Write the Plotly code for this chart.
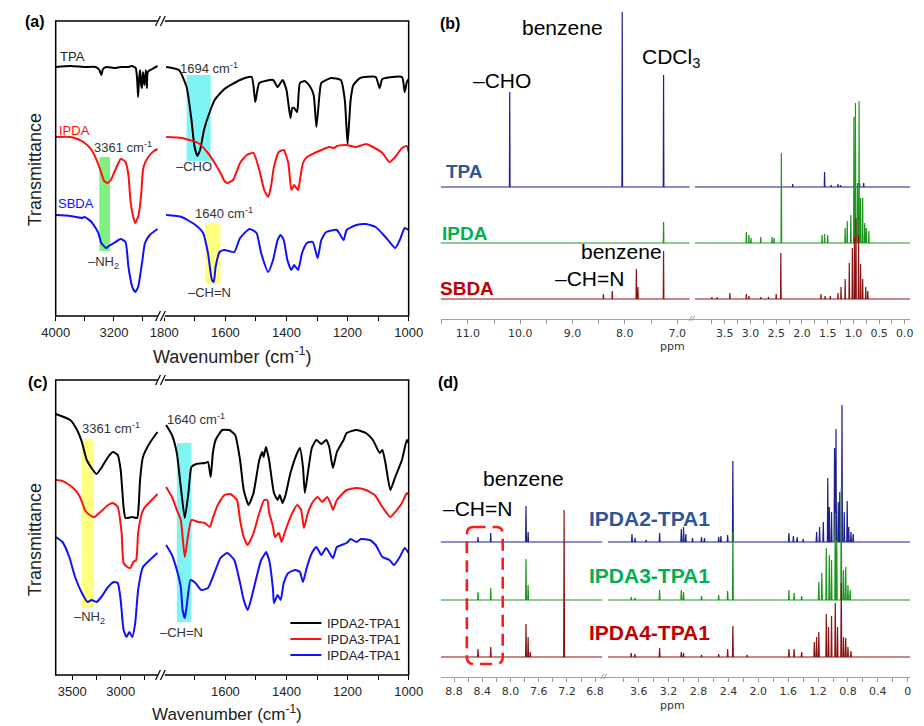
import plotly.graph_objects as go

W, H = 924, 726
def fx(px): return px / W
def fy(py): return 1 - py / H

# ================= DATA =================
# ---- Panel (a): FTIR of monomers (wavenumber cm-1, transmittance a.u.) ----
a_tpa_l_wn = [4000,3800,3600,3450,3400,3373,3350,3300,3200,3100,3000,2950,2900,2880,2867,2855,2840,2825,2813,2800,2780,2760,2747,2735,2700,2650,2600]
a_tpa_l_t  = [249,250,249,249,246,241,247,249,248,249,249,250,248,236,219,236,246,231,228,244,231,246,228,244,246,248,250]
a_tpa_r_wn = [1794,1752,1727,1711,1702,1692,1683,1670,1657,1635,1603,1552,1514,1502,1489,1444,1429,1413,1400,1387,1381,1375,1365,1356,1340,1324,1311,1302,1292,1286,1254,1222,1209,1200,1190,1181,1159,1108,1095,1086,1022,1013,1006,1000]
a_tpa_r_t  = [249,246,229,196,171,160,166,186,199,216,227,236,239,214,233,236,229,236,226,198,208,208,204,233,235,230,221,189,221,233,238,236,216,172,216,231,238,239,228,237,239,224,234,237]

a_ipda_l_wn = [4000,3800,3700,3600,3507,3450,3400,3360,3333,3290,3240,3200,3150,3107,3070,3040,3000,2973,2940,2907,2880,2867,2840,2820,2800,2773,2707,2650,2600]
a_ipda_l_t  = [179,179,177,173,166,158,149,140,135,133,136,143,151,157,156,154,141,116,101,93,97,99,111,126,146,153,161,165,167]
a_ipda_r_wn = [1794,1743,1689,1657,1635,1616,1603,1594,1575,1552,1530,1508,1489,1473,1460,1451,1441,1425,1409,1394,1384,1375,1362,1356,1346,1333,1308,1286,1260,1244,1235,1203,1171,1140,1117,1086,1063,1044,1022,1006,1000]
a_ipda_r_t  = [179,178,173,163,153,143,135,133,136,153,161,163,146,126,119,129,149,164,166,153,126,131,126,136,153,159,163,166,169,168,170,171,169,172,169,163,154,159,168,170,164]

a_sbda_l_wn = [4000,3800,3640,3600,3507,3413,3373,3307,3270,3200,3107,3040,3000,2947,2907,2867,2813,2773,2707,2600]
a_sbda_l_t  = [101,100,98,99,94,83,73,68,70,73,77,74,49,29,24,29,53,73,81,87]
a_sbda_r_wn = [1794,1743,1698,1673,1657,1644,1638,1632,1619,1603,1571,1552,1521,1498,1483,1460,1444,1429,1419,1409,1397,1384,1375,1362,1349,1333,1314,1298,1286,1270,1235,1213,1203,1171,1140,1108,1076,1044,1029,1013,1000]
a_sbda_r_t  = [101,99,91,83,63,36,34,49,64,66,64,78,87,83,63,44,56,76,81,76,56,46,51,46,63,73,74,58,76,84,86,76,86,91,92,89,79,68,76,88,86]

# ---- Panel (c): FTIR of polymers ----
c_p2_l_wn = [3670,3520,3450,3400,3350,3300,3250,3200,3130,3080,3030,3000,2970,2950,2880,2830,2815,2800,2770,2700,2620]
c_p2_l_t  = [261,255,245,233,215,207,201,207,218,223,220,205,168,157,158,157,168,195,218,232,243]
c_p2_r_wn = [1794,1775,1759,1746,1733,1721,1711,1695,1667,1657,1648,1641,1632,1610,1587,1568,1552,1540,1524,1508,1489,1479,1475,1467,1457,1441,1429,1422,1413,1403,1387,1365,1356,1346,1340,1330,1317,1302,1286,1270,1260,1248,1235,1213,1203,1171,1140,1117,1095,1086,1076,1060,1044,1022,1006,1000]
c_p2_r_t  = [250,240,222,188,157,182,208,211,212,213,198,222,235,245,245,240,215,185,170,182,215,223,218,228,215,182,175,180,172,180,202,222,227,208,182,202,227,235,231,235,228,207,223,235,242,245,242,235,222,225,212,185,198,215,235,232]

c_p3_l_wn = [3670,3600,3500,3430,3380,3370,3320,3270,3220,3130,3080,3030,2990,2970,2930,2900,2870,2840,2820,2780,2750,2700,2620]
c_p3_l_t  = [195,194,188,180,168,165,160,158,162,170,172,168,142,112,108,107,113,115,142,162,168,173,181]
c_p3_r_wn = [1794,1775,1759,1746,1733,1721,1711,1689,1667,1651,1641,1625,1603,1584,1562,1552,1540,1527,1508,1489,1473,1463,1457,1444,1438,1425,1416,1403,1381,1365,1352,1343,1330,1314,1298,1283,1267,1251,1248,1235,1203,1171,1140,1111,1086,1060,1044,1022,1006,1000]
c_p3_r_t  = [188,178,165,155,118,142,155,153,152,148,157,170,180,181,175,155,138,130,142,162,175,175,163,148,138,142,133,145,162,170,165,147,162,173,178,173,178,168,165,175,185,187,185,180,168,158,163,172,182,180]

c_p4_l_wn = [3670,3600,3530,3470,3400,3340,3300,3250,3200,3130,3070,3030,3000,2970,2940,2910,2880,2850,2820,2770,2700,2620]
c_p4_l_t  = [138,133,118,98,82,73,75,73,78,88,93,92,75,45,38,43,38,52,85,108,115,122]
c_p4_r_wn = [1794,1775,1759,1746,1740,1733,1727,1714,1698,1679,1657,1641,1616,1594,1571,1552,1540,1527,1514,1498,1483,1473,1467,1457,1444,1441,1429,1419,1409,1394,1371,1356,1346,1333,1317,1302,1286,1270,1248,1235,1203,1190,1171,1156,1127,1108,1086,1063,1048,1029,1013,1000]
c_p4_r_t  = [130,120,105,88,65,57,68,95,92,85,87,98,117,122,115,92,75,65,78,98,115,120,123,115,85,72,80,75,92,102,105,103,93,108,122,128,120,127,117,128,132,136,133,136,135,130,118,115,110,118,127,122]

c_names = ["IPDA2-TPA1", "IPDA3-TPA1", "IPDA4-TPA1"]

# ---- Panel (b): 1H NMR of monomers (peak ppm, peak height a.u.) ----
b_tpa_l_ppm = [10.2, 8.05, 7.26]
b_tpa_l_h   = [95, 175, 112]
b_tpa_r_ppm = [2.18, 1.56, 1.43, 1.30, 1.25, 0.88, 0.80]
b_tpa_r_h   = [3, 15, 2, 3, 2, 4, 4]

b_ipda_l_ppm = [7.26]
b_ipda_l_h   = [21]
b_ipda_r_ppm = [3.08, 3.03, 2.99, 2.80, 2.58, 2.54, 2.40, 1.61, 1.56, 1.50, 1.16, 1.12, 1.05, 0.99, 0.96, 0.92, 0.89, 0.86, 0.82, 0.78, 0.75, 0.70]
b_ipda_r_h   = [11, 8, 5, 6, 6, 5, 90, 8, 9, 8, 15, 22, 28, 126, 140, 60, 142, 45, 45, 20, 15, 12]

b_sbda_l_ppm = [8.41, 8.24, 7.78, 7.75, 7.26]
b_sbda_l_h   = [5, 8, 30, 12, 48]
b_sbda_r_ppm = [3.75, 3.65, 3.40, 3.08, 3.03, 2.80, 2.65, 2.50, 2.41, 1.63, 1.55, 1.45, 1.30, 1.24, 1.16, 1.08, 1.02, 0.98, 0.95, 0.90, 0.86, 0.82, 0.76, 0.72]
b_sbda_r_h   = [2, 2, 6, 5, 3, 2, 2, 5, 46, 5, 3, 3, 6, 12, 20, 36, 51, 62, 81, 64, 35, 20, 12, 8]

# ---- Panel (d): 1H NMR of polymers ----
d_p2_l_ppm = [8.46, 8.28, 7.78, 7.75]
d_p2_l_h   = [5, 9, 36, 10]
d_p2_r_ppm = [3.69, 3.65, 3.50, 3.32, 3.03, 3.00, 2.97, 2.88, 2.76, 2.72, 2.53, 2.50, 2.41, 2.34, 1.59, 1.53, 1.48, 1.40, 1.22, 1.18, 1.13, 1.07, 1.05, 1.02, 0.98, 0.96, 0.93, 0.91, 0.88, 0.85, 0.81, 0.79, 0.76, 0.73]
d_p2_r_h   = [8, 4, 2, 9, 13, 15, 8, 4, 5, 4, 5, 6, 7, 81, 9, 6, 5, 3, 10, 15, 20, 64, 35, 30, 94, 113, 40, 50, 137, 30, 41, 15, 10, 8]

d_p3_l_ppm = [8.46, 8.28, 7.78, 7.75]
d_p3_l_h   = [8, 12, 41, 15]
d_p3_r_ppm = [3.70, 3.65, 3.32, 3.03, 3.00, 2.76, 2.53, 2.41, 2.34, 1.59, 1.52, 1.42, 1.19, 1.15, 1.09, 1.05, 1.02, 0.97, 0.95, 0.89, 0.86, 0.83, 0.80, 0.77]
d_p3_r_h   = [3, 2, 10, 10, 8, 4, 5, 9, 68, 10, 7, 4, 18, 27, 52, 45, 40, 87, 60, 112, 30, 33, 15, 10]

d_p4_l_ppm = [8.46, 8.28, 7.78, 7.75, 7.72, 7.24]
d_p4_l_h   = [8, 10, 33, 20, 5, 147]
d_p4_r_ppm = [3.70, 3.65, 3.32, 3.03, 3.00, 2.76, 2.53, 2.41, 2.34, 2.15, 1.59, 1.52, 1.42, 1.25, 1.22, 1.19, 1.09, 1.06, 1.02, 0.97, 0.94, 0.89, 0.86, 0.83, 0.80, 0.76]
d_p4_r_h   = [4, 3, 9, 5, 4, 2, 3, 8, 31, 2, 8, 8, 5, 15, 20, 25, 43, 30, 41, 54, 30, 74, 20, 19, 10, 6]

# ================= STYLE CONSTANTS =================
IR_FONT = "Liberation Sans, Arial, sans-serif"
NMR_FONT = "Liberation Sans, Arial, sans-serif"
TICK_FONT_NMR = "DejaVu Sans, Verdana, sans-serif"
C_BLACK, C_RED, C_BLUE = "#000000", "#ff1010", "#1010ff"
N_BLUE, N_GREEN, N_RED = "#1f1f8f", "#1e961e", "#8b1212"
L_BLUE, L_GREEN, L_RED = "#2f5597", "#00b050", "#c00000"

fig = go.Figure()

def stems(ppm, h, hi, lo, base, w=0.006):
    pairs = sorted(zip(ppm, h), key=lambda t: -t[0])
    xs, ys = [hi], [base]
    for p, v in pairs:
        xs += [p + w, p, p - w]
        ys += [base, base + v, base]
    xs.append(lo); ys.append(base)
    return xs, ys

def ir(xw, yt, xa, ya, color, name=None, group=None):
    fig.add_trace(go.Scatter(x=xw, y=yt, xaxis=xa, yaxis=ya, mode="lines",
                             line=dict(color=color, width=2, shape="spline", smoothing=0.5),
                             name=name, legendgroup=group, showlegend=False, hoverinfo="skip"))

# Panel (a)
ir(a_tpa_l_wn, a_tpa_l_t, "x", "y", C_BLACK)
ir(a_tpa_r_wn, a_tpa_r_t, "x2", "y", C_BLACK)
ir(a_ipda_l_wn, a_ipda_l_t, "x", "y", C_RED)
ir(a_ipda_r_wn, a_ipda_r_t, "x2", "y", C_RED)
ir(a_sbda_l_wn, a_sbda_l_t, "x", "y", C_BLUE)
ir(a_sbda_r_wn, a_sbda_r_t, "x2", "y", C_BLUE)

# Panel (c)
ir(c_p2_l_wn, c_p2_l_t, "x5", "y3", C_BLACK, c_names[0], c_names[0])
ir(c_p2_r_wn, c_p2_r_t, "x6", "y3", C_BLACK, c_names[0], c_names[0])
ir(c_p3_l_wn, c_p3_l_t, "x5", "y3", C_RED, c_names[1], c_names[1])
ir(c_p3_r_wn, c_p3_r_t, "x6", "y3", C_RED, c_names[1], c_names[1])
ir(c_p4_l_wn, c_p4_l_t, "x5", "y3", C_BLUE, c_names[2], c_names[2])
ir(c_p4_r_wn, c_p4_r_t, "x6", "y3", C_BLUE, c_names[2], c_names[2])

# NMR ranges
B_L = (11.52, 6.76); B_R = (4.08, -0.10)
D_L = (8.99, 6.70); D_R = (4.01, -0.03)
B_BASE = {"tpa": 132, "ipda": 76, "sbda": 20}
D_BASE = {"p2": 135, "p3": 77, "p4": 20}

def nmr(ppm, h, rng, base, xa, ya, color):
    xs, ys = stems(ppm, h, rng[0], rng[1], base)
    fig.add_trace(go.Scatter(x=xs, y=ys, xaxis=xa, yaxis=ya, mode="lines",
                             line=dict(color=color, width=1.2), showlegend=False, hoverinfo="skip"))

nmr(b_tpa_l_ppm, b_tpa_l_h, B_L, B_BASE["tpa"], "x3", "y2", N_BLUE)
nmr(b_tpa_r_ppm, b_tpa_r_h, B_R, B_BASE["tpa"], "x4", "y2", N_BLUE)
nmr(b_ipda_l_ppm, b_ipda_l_h, B_L, B_BASE["ipda"], "x3", "y2", N_GREEN)
nmr(b_ipda_r_ppm, b_ipda_r_h, B_R, B_BASE["ipda"], "x4", "y2", N_GREEN)
nmr(b_sbda_l_ppm, b_sbda_l_h, B_L, B_BASE["sbda"], "x3", "y2", N_RED)
nmr(b_sbda_r_ppm, b_sbda_r_h, B_R, B_BASE["sbda"], "x4", "y2", N_RED)

nmr(d_p2_l_ppm, d_p2_l_h, D_L, D_BASE["p2"], "x7", "y4", N_BLUE)
nmr(d_p2_r_ppm, d_p2_r_h, D_R, D_BASE["p2"], "x8", "y4", N_BLUE)
nmr(d_p3_l_ppm, d_p3_l_h, D_L, D_BASE["p3"], "x7", "y4", N_GREEN)
nmr(d_p3_r_ppm, d_p3_r_h, D_R, D_BASE["p3"], "x8", "y4", N_GREEN)
nmr(d_p4_l_ppm, d_p4_l_h, D_L, D_BASE["p4"], "x7", "y4", N_RED)
nmr(d_p4_r_ppm, d_p4_r_h, D_R, D_BASE["p4"], "x8", "y4", N_RED)

# ================= AXES =================
def ir_x(dom, rng, vals, minor, anchor):
    return dict(domain=[fx(dom[0]), fx(dom[1])], range=list(rng), anchor=anchor,
                tickvals=vals, ticktext=[str(v) for v in vals],
                ticks="outside", ticklen=4, tickwidth=1.2, tickcolor="#000",
                minor=dict(tickvals=minor, ticks="outside", ticklen=4, tickwidth=1.2,
                           tickcolor="#000", showgrid=False),
                showline=False, showgrid=False, zeroline=False,
                tickfont=dict(family=IR_FONT, size=13, color="#222"), fixedrange=True)

def nmr_x(dom, rng, major, labels, minor, anchor):
    return dict(domain=[fx(dom[0]), fx(dom[1])], range=list(rng), anchor=anchor,
                tickvals=list(major), ticktext=list(labels), ticks="outside", ticklen=4,
                tickwidth=1, tickcolor="#999",
                minor=dict(tickvals=list(minor), ticks="outside", ticklen=4, tickwidth=1,
                           tickcolor="#999", showgrid=False),
                showline=True, linecolor="#a0a0a0", linewidth=1.2,
                showgrid=False, zeroline=False,
                tickfont=dict(family=TICK_FONT_NMR, size=11, color="#333"), fixedrange=True)

hid = dict(visible=False, showgrid=False, zeroline=False, fixedrange=True)

layout = dict(
    width=W, height=H, autosize=False, margin=dict(l=0, r=0, t=0, b=0),
    paper_bgcolor="white", plot_bgcolor="rgba(0,0,0,0)", showlegend=False,
    font=dict(family=IR_FONT, color="#000"),
    xaxis=ir_x((43, 152), (4000, 2547), [4000, 3200], [3600, 2800], "y"),
    xaxis2=ir_x((152, 407), (1809.5, 1000), [1800, 1600, 1400, 1200, 1000],
                [1700, 1500, 1300, 1100], "y"),
    yaxis=dict(domain=[fy(316), fy(21)], range=[0, 295], anchor="x", **hid),
    xaxis5=ir_x((43, 152), (3670, 2580), [3500, 3000], [3250, 2750], "y3"),
    xaxis6=ir_x((152, 407), (1809.5, 1000), [1600, 1400, 1200, 1000],
                [1700, 1500, 1300, 1100], "y3"),
    yaxis3=dict(domain=[fy(675), fy(380)], range=[0, 295], anchor="x5", **hid),
    xaxis3=nmr_x((440, 699), (B_L[0], 6.72), [11.0, 10.0, 9.0, 8.0, 7.0],
                 ["11.0", "10.0", "9.0", "8.0", "7.0"], [11.5, 10.5, 9.5, 8.5, 7.5], "y2"),
    xaxis4=nmr_x((699, 924), (4.14, -0.10), [3.5, 3.0, 2.5, 2.0, 1.5, 1.0, 0.5, 0.0],
                 ["3.5", "3.0", "2.5", "2.0", "1.5", "1.0", "0.5", "0.0"],
                 [3.75, 3.25, 2.75, 2.25, 1.75, 1.25, 0.75, 0.25], "y2"),
    yaxis2=dict(domain=[fy(319), 1.0], range=[0, 319], anchor="x3", **hid),
    xaxis7=nmr_x((440, 608), (D_L[0], 6.68), [8.8, 8.4, 8.0, 7.6, 7.2, 6.8],
                 ["8.8", "8.4", "8.0", "7.6", "7.2", "6.8"], [8.6, 8.2, 7.8, 7.4, 7.0], "y4"),
    xaxis8=nmr_x((608, 924), (4.07, -0.03), [3.6, 3.2, 2.8, 2.4, 2.0, 1.6, 1.2, 0.8, 0.4, 0.0],
                 ["3.6", "3.2", "2.8", "2.4", "2.0", "1.6", "1.2", "0.8", "0.4", "0"],
                 [3.8, 3.4, 3.0, 2.6, 2.2, 1.8, 1.4, 1.0, 0.6, 0.2], "y4"),
    yaxis4=dict(domain=[fy(677), fy(380)], range=[0, 297], anchor="x7", **hid),
)
fig.update_layout(**layout)

# ================= SHAPES =================
shapes = []
def prect(x0, y0, x1, y1, **kw):
    shapes.append(dict(type="rect", xref="paper", yref="paper",
                       x0=fx(x0), x1=fx(x1), y0=fy(y1), y1=fy(y0), **kw))
def pline(x0, y0, x1, y1, **kw):
    shapes.append(dict(type="line", xref="paper", yref="paper",
                       x0=fx(x0), x1=fx(x1), y0=fy(y0), y1=fy(y1), **kw))

# highlight bands (data coordinates)
def band(xr, yr, x0, x1, y0, y1, color):
    shapes.append(dict(type="rect", xref=xr, yref=yr, x0=x0, x1=x1, y0=y0, y1=y1,
                       fillcolor=color, line=dict(width=0), layer="below"))
band("x", "y", 3400, 3253, 65, 159, "#80f080")
band("x2", "y", 1727, 1648, 155, 241, "#80f4f4")
band("x2", "y", 1667, 1616, 32, 93, "#ffff80")
band("x5", "y3", 3400, 3280, 67, 236, "#ffff80")
band("x6", "y3", 1759, 1711, 53, 232, "#80f4f4")

# frames for IR panels
prect(43, 21, 407, 316, line=dict(color="#000", width=1.5))
prect(43, 380, 407, 675, line=dict(color="#000", width=1.5))
# axis break marks
for yb in (21, 316, 380, 675):
    prect(148.5, yb - 2, 155.5, yb + 2, fillcolor="white", line=dict(width=0))
    pline(146, yb + 5, 151, yb - 5, line=dict(color="#000", width=1.2))
    pline(151, yb + 5, 156, yb - 5, line=dict(color="#000", width=1.2))
for xb, yb in ((699, 319), (608, 677)):
    pline(xb - 3, yb + 2, xb, yb - 3, line=dict(color="#999", width=1))
    pline(xb, yb + 2, xb + 3, yb - 3, line=dict(color="#999", width=1))

# manual legend lines for (c)
LEG_Y = [623, 639, 655]
for yy, col in zip(LEG_Y, (C_BLACK, C_RED, C_BLUE)):
    pline(285, yy, 317, yy, line=dict(color=col, width=2))

# dashed rounded box in (d)
x0, x1, y0, y1 = fx(467), fx(504), fy(664), fy(527)
rx, ry = 7 / W, 7 / H
path = (f"M {x0+rx},{y1} L {x1-rx},{y1} Q {x1},{y1} {x1},{y1-ry} L {x1},{y0+ry} "
        f"Q {x1},{y0} {x1-rx},{y0} L {x0+rx},{y0} Q {x0},{y0} {x0},{y0+ry} "
        f"L {x0},{y1-ry} Q {x0},{y1} {x0+rx},{y1} Z")
shapes.append(dict(type="path", xref="paper", yref="paper", path=path,
                   line=dict(color="#ff1a1a", width=2.6, dash="12px,7px")))
fig.update_layout(shapes=shapes)

# ================= ANNOTATIONS =================
ann = []
def txt(s, x, y, size, color="#000", bold=False, family=IR_FONT, angle=0, xanchor="center"):
    if bold:
        s = f"<b>{s}</b>"
    ann.append(dict(text=s, x=fx(x), y=fy(y), xref="paper", yref="paper", showarrow=False,
                    xanchor=xanchor, yanchor="middle", textangle=angle,
                    font=dict(size=size, color=color, family=family)))

# (a)
txt("(a)", 22, 22, 16, bold=True)
txt("TPA", 60, 56, 13, "#222")
txt("IPDA", 62, 130, 13, C_RED)
txt("SBDA", 64, 204, 13, C_BLUE)
txt("1694 cm<sup>-1</sup>", 201, 68, 13, "#333")
txt("–CHO", 186, 167, 13, "#333")
txt("3361 cm<sup>-1</sup>", 112, 147, 13, "#333")
txt("–NH<sub>2</sub>", 92, 262, 13, "#333")
txt("1640 cm<sup>-1</sup>", 217, 213, 13, "#333")
txt("–CH=N", 202, 292, 13, "#333")
txt("Transmittance", 22, 170, 18, "#222", angle=-90)
txt("Wavenumber (cm<sup>-1</sup>)", 225, 355, 18, "#222")
# (c)
txt("(c)", 25, 382, 16, bold=True)
txt("3361 cm<sup>-1</sup>", 100, 428, 13, "#333")
txt("1640 cm<sup>-1</sup>", 188, 419, 13, "#333")
txt("–NH<sub>2</sub>", 78, 617, 13, "#333")
txt("–CH=N", 173, 632, 13, "#333")
txt("Transmittance", 22, 540, 18, "#222", angle=-90)
txt("Wavenumber (cm<sup>-1</sup>)", 220, 713, 17, "#222")
for yy, nm in zip(LEG_Y, c_names):
    txt(nm, 321, yy, 13, "#222", xanchor="left")
# (b)
txt("(b)", 450, 23, 16, bold=True)
txt("benzene", 566, 28, 21, family=NMR_FONT)
txt("–CHO", 503, 80, 21, family=NMR_FONT)
txt("CDCl<sub>3</sub>", 678, 58, 21, family=NMR_FONT)
txt("TPA", 465, 172, 19, L_BLUE, bold=True, family=NMR_FONT)
txt("IPDA", 465, 233, 19, L_GREEN, bold=True, family=NMR_FONT)
txt("SBDA", 467, 288, 19, L_RED, bold=True, family=NMR_FONT)
txt("benzene", 626, 252, 21, family=NMR_FONT)
txt("–CH=N", 593, 278, 21, family=NMR_FONT)
txt("ppm", 679, 346, 11, "#333", family=TICK_FONT_NMR)
# (d)
txt("(d)", 448, 383, 16, bold=True)
txt("benzene", 525, 479, 21, family=NMR_FONT)
txt("–CH=N", 478, 508, 21, family=NMR_FONT)
txt("IPDA2-TPA1", 655, 518, 21, L_BLUE, bold=True, family=NMR_FONT)
txt("IPDA3-TPA1", 655, 575, 21, L_GREEN, bold=True, family=NMR_FONT)
txt("IPDA4-TPA1", 655, 632, 21, L_RED, bold=True, family=NMR_FONT)
txt("ppm", 679, 705, 11, "#333", family=TICK_FONT_NMR)
fig.update_layout(annotations=ann)

fig.write_html("out.html")
